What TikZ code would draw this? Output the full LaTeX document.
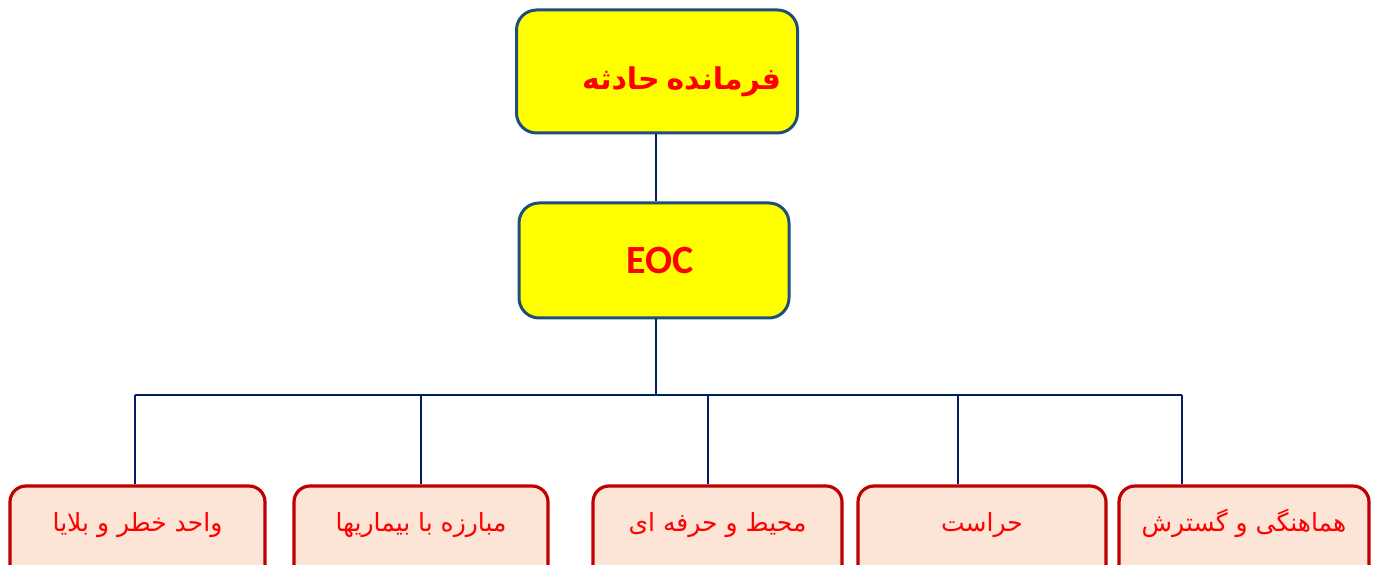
\documentclass[tikz,border=0pt]{standalone}
\usepackage{fontspec}
\setmainfont{Carlito}
\newfontfamily\arabicfont[Script=Arabic]{DejaVu Sans}
\TeXXeTstate=1
\usepackage{tikz}
\usetikzlibrary{positioning}
\definecolor{chiefblue}{HTML}{1F4E79}
\definecolor{chiefyellow}{HTML}{FFFF00}
\definecolor{busnavy}{HTML}{002060}
\definecolor{unitred}{HTML}{C00000}
\definecolor{unitfill}{HTML}{FCE4D6}
\definecolor{txtred}{HTML}{FF0000}
\tikzstyle{head}=[rectangle, rounded corners=10pt, fill=chiefyellow, draw=chiefblue, line width=1.5pt, text=txtred, font=\bfseries]
\tikzstyle{unit}=[rectangle, rounded corners=8pt, fill=unitfill, draw=unitred, line width=1.6pt, text=txtred, inner sep=0pt, anchor=base, text height=22.5pt, text depth=40pt, font=\arabicfont\fontsize{12.5}{15}\selectfont]
\tikzstyle{link}=[-, draw=busnavy, line width=1.4pt]
\begin{document}
\begin{tikzpicture}[x=0.5pt, y=-0.5pt]
            \useasboundingbox (0,0) rectangle (1374,565);
            \clip (0,0) rectangle (1374,565);
                \node [style=head, minimum width=140.5pt, minimum height=61.5pt, text width=124pt, align=right, inner xsep=8pt] (chief) at (657, 71.5) {\raisebox{-9pt}[0pt][0pt]{\arabicfont\fontsize{15}{18}\selectfont\bfseries\beginR فرمانده حادثه\endR}};
                \node [style=head, minimum width=135pt, minimum height=57.5pt] (eoc) at (654, 260.5) {\fontsize{20}{24}\selectfont\hspace{6pt}EOC};

                \coordinate (bus) at (656, 395);
                \coordinate (d1) at (135, 395);
                \coordinate (d2) at (421, 395);
                \coordinate (d3) at (708, 395);
                \coordinate (d4) at (958, 395);
                \coordinate (d5) at (1182, 395);

                \node [style=unit, minimum width=127.5pt] (hazard) at (137.5, 531) {\beginR واحد خطر و بلایا\endR};
                \node [style=unit, minimum width=127pt] (disease) at (421, 531) {\beginR مبارزه با بیماریها\endR};
                \node [style=unit, minimum width=124.5pt] (health) at (717.5, 531) {\beginR محیط و حرفه ای\endR};
                \node [style=unit, minimum width=124pt] (security) at (982, 531) {\beginR حراست\endR};
                \node [style=unit, minimum width=125pt] (coord) at (1244, 531) {\beginR هماهنگی و گسترش\endR};

                \draw [style=link] (chief.south -| bus) to (eoc.north -| bus);
                \draw [style=link] (eoc.south -| bus) to (bus);
                \draw [style=link] (d1) to (d5);
                \draw [style=link] (d1) to (d1 |- hazard.north);
                \draw [style=link] (d2) to (d2 |- disease.north);
                \draw [style=link] (d3) to (d3 |- health.north);
                \draw [style=link] (d4) to (d4 |- security.north);
                \draw [style=link] (d5) to (d5 |- coord.north);
        \end{tikzpicture}
\end{document}
